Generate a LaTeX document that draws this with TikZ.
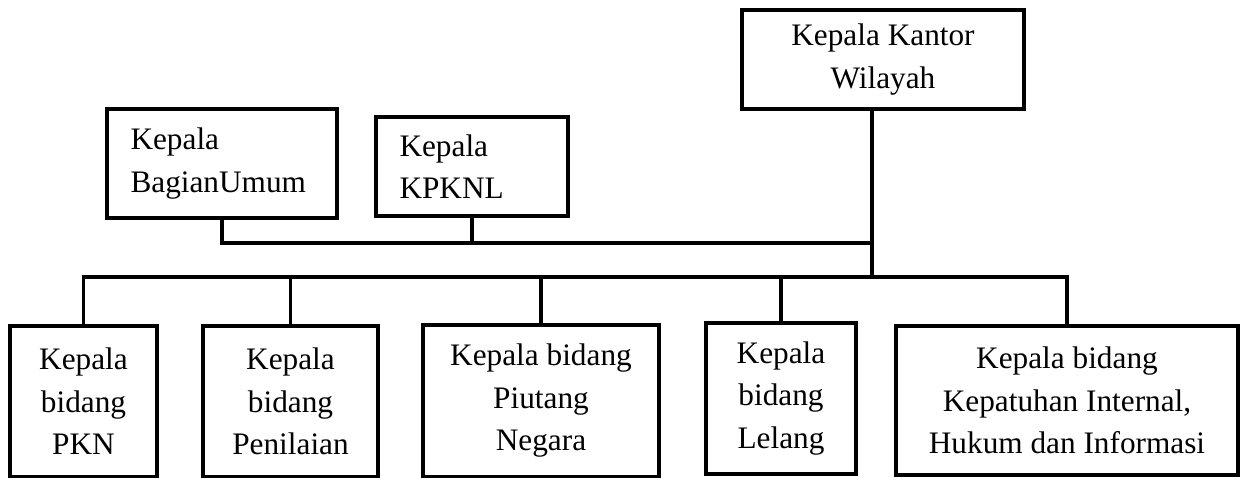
\documentclass[tikz,border=0pt]{standalone}
\usepackage{fontspec}
\setmainfont{Liberation Serif}
\usepackage{tikz}
\usetikzlibrary{calc}
\tikzset{
  % Plain office box, black stroke, text centred.
  unit/.style  = {rectangle, draw=black, line width=2.2pt, fill=white,
                  align=center, inner sep=0pt},
  % Office box whose text hugs the left side.
  lunit/.style = {unit, align=left, inner xsep=0.47cm, text width=#1},
  link/.style  = {draw=black, line width=1.9pt},
}

\begin{document}
\begin{tikzpicture}[x=1cm,y=1cm,font=\fontsize{17.8}{24.2}\selectfont]
\useasboundingbox (0,0) rectangle (24.88,9.56);
% --- top of the chart --------------------------------------------------
\node[unit, minimum width=5.64cm, minimum height=1.98cm] (kanwil) at (17.66,8.37)
      {Kepala Kantor\\Wilayah};
% --- staff offices -----------------------------------------------------
\node[lunit=3.66cm, minimum height=2.18cm] (umum)  at (4.44,6.29) {Kepala\\BagianUmum};
\node[lunit=2.90cm, minimum height=1.98cm] (kpknl) at (9.44,6.23) {Kepala\\KPKNL};
% --- the five fields ---------------------------------------------------
\node[unit, minimum width=2.94cm, minimum height=3.02cm] (pkn)  at (1.67,1.53)
      {Kepala\\bidang\\PKN};
\node[unit, minimum width=3.50cm, minimum height=3.02cm] (nilai) at (5.81,1.53)
      {Kepala\\bidang\\Penilaian};
\node[unit, minimum width=4.72cm, minimum height=3.04cm] (piut) at (10.82,1.54)
      {Kepala bidang\\Piutang\\Negara};
\node[unit, minimum width=3.00cm, minimum height=3.02cm] (lelang) at (15.62,1.59)
      {Kepala\\bidang\\Lelang};
\node[unit, minimum width=6.84cm, minimum height=2.98cm] (kihi) at (21.34,1.55)
      {Kepala bidang\\Kepatuhan Internal,\\Hukum dan Informasi};
% --- the two buses -----------------------------------------------------
\coordinate (jtop) at (17.44,4.70);
\coordinate (jbot) at (17.44,4.02);
\draw[link] (kanwil.south -| jbot) -- (jbot);
\draw[link] (umum.south) |- (jtop);
\draw[link] (kpknl.south) -- (kpknl.south |- jtop);
\draw[link] (pkn.north) |- (kihi.north |- jbot) -- (kihi.north);
\foreach \n in {nilai,piut,lelang}
  {\draw[link] (\n.north) -- (\n.north |- jbot);}
\end{tikzpicture}
\end{document}
